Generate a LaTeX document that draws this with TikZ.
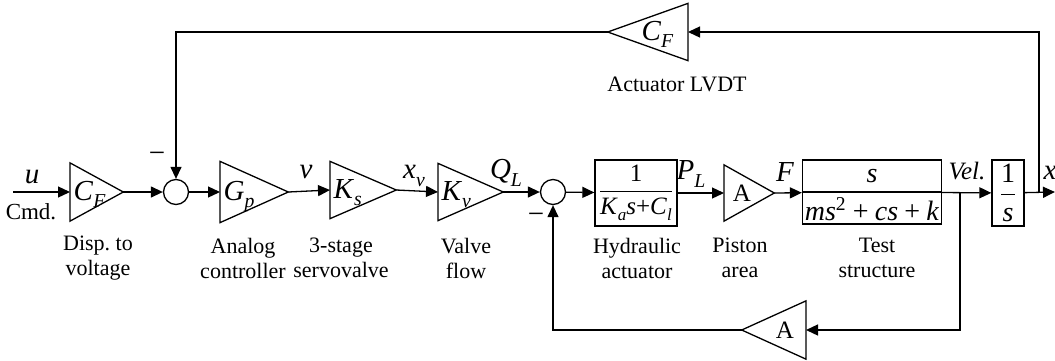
\documentclass[tikz,border=0pt]{standalone}
\usepackage{fontspec}
\setmainfont{Liberation Serif}
\usetikzlibrary{arrows.meta, positioning}

\newcommand{\mi}[1]{\textit{#1}}
\newcommand{\sub}[1]{\raisebox{-0.6ex}{\scalebox{0.68}{\textit{#1}}}}
\newcommand{\msp}{\hspace{0.22em}}
% triangle drawn in the box of a gain node
\newcommand{\gainright}[1]{\draw (#1.north west) -- (#1.east) -- (#1.south west) -- cycle;}
\newcommand{\gainleft}[1]{\draw (#1.north east) -- (#1.west) -- (#1.south east) -- cycle;}

\begin{document}
\begin{tikzpicture}[
        x=0.5pt, y=-0.5pt,
        line width=0.65pt,
        >={Triangle[length=6pt,width=5.5pt]},
        gain/.style={rectangle, inner sep=0pt},
        gtext/.style={inner sep=0pt, font=\fontsize{14.5}{16}\selectfont},
        sumpt/.style={draw, circle, minimum size=12.5pt, inner sep=0pt},
        block/.style={draw, rectangle, inner sep=0pt, font=\fontsize{12.5}{14}\selectfont},
        sig/.style={inner sep=0pt, font=\fontsize{14.5}{16}\selectfont},
        caption/.style={inner sep=0pt, align=center, font=\fontsize{11}{12.5}\selectfont}
    ]
    \useasboundingbox (0,0) rectangle (1055,360);

    % Forward path
    \node[gain, anchor=west, minimum width=26pt, minimum height=28.5pt] (cf) at (70,192) {};
    \node[sumpt] (s1) at (176,192) {};
    \node[gain, anchor=west, minimum width=33.5pt, minimum height=30pt] (gp) at (220,192) {};
    \node[gain, anchor=west, minimum width=32.5pt, minimum height=28pt] (ks) at (330,190) {};
    \node[gain, anchor=west, minimum width=32pt, minimum height=28pt] (kv) at (438,192) {};
    \node[sumpt] (s2) at (553,192) {};
    \node[block, minimum width=41pt, minimum height=33pt] (hyd) at (636,193)
        {$\displaystyle\frac{\mbox{1}}{\mbox{\mi{K}\sub{a}\mi{s}+\mi{C}\sub{l}}}$};
    \node[gain, anchor=west, minimum width=24.5pt, minimum height=27.5pt] (pa) at (724,193) {};
    \node[block, minimum width=69.5pt, minimum height=32pt] (ts) at (872,192) {};
    \node[block, minimum width=16pt, minimum height=33pt, font=\fontsize{14}{16}\selectfont] (integ) at (1008,193)
        {$\displaystyle\frac{\mbox{1}}{\mbox{\mi{s}}}$};

    % Feedback gains
    \node[gain, anchor=east, minimum width=39.5pt, minimum height=28pt] (fb) at (688,32) {};
    \node[gain, anchor=east, minimum width=31.5pt, minimum height=28.5pt] (fba) at (806,330) {};

    % Triangles
    \gainright{cf}
    \gainright{gp}
    \gainright{ks}
    \gainright{kv}
    \gainright{pa}
    \gainleft{fb}
    \gainleft{fba}

    % Gain texts
    \node[gtext, anchor=base west] (tcf) at ([xshift=1.5pt, yshift=-4pt]cf.west) {\mi{C}\sub{F}};
    \node[gtext, anchor=base west] (tgp) at ([xshift=1.5pt, yshift=-4pt]gp.west) {\mi{G}\sub{p}};
    \node[gtext, anchor=base west] (tks) at ([xshift=1.5pt, yshift=-4pt]ks.west) {\mi{K}\sub{s}};
    \node[gtext, anchor=base west] (tkv) at ([xshift=1.5pt, yshift=-4pt]kv.west) {\mi{K}\sub{v}};
    \node[gtext, anchor=base, font=\fontsize{12.5}{14}\selectfont] (tpa) at ([xshift=9pt, yshift=-4pt]pa.west) {A};
    \node[gtext, anchor=base east] (tfb) at ([xshift=-7pt, yshift=-4pt]fb.east) {\mi{C}\sub{F}};
    \node[gtext, anchor=base, font=\fontsize{12.5}{14}\selectfont] (tfba) at ([xshift=-10.5pt, yshift=-4pt]fba.east) {A};

    % Test structure fraction
    \draw (ts.west) -- (ts.east);
    \node[sig, font=\fontsize{14}{16}\selectfont] (tsnum) at (872,176) {\mi{s}};
    \node[sig, font=\fontsize{14}{16}\selectfont] (tsden) at (872,209) {\mi{ms}\textsuperscript{2}\msp+\msp\mi{cs}\msp+\msp\mi{k}};

    % Free ends and corners
    \coordinate (in) at (13,192);
    \coordinate (out) at (1055,192);
    \coordinate (bx) at (1039,192);
    \coordinate (bv) at (960,192);

    % Signals
    \draw[->] (in) -- (cf.west);
    \draw[->] (cf.east) -- (s1);
    \draw[->] (s1) -- (gp.west);
    \draw[->] (gp.east) -- (ks.west);
    \draw[->] (ks.east) -- (kv.west);
    \draw[->] (kv.east) -- (s2);
    \draw[->] (s2) -- (hyd);
    \draw[->] (hyd) -- (pa.west);
    \draw[->] (pa.east) -- (ts);
    \draw[->] (ts) -- (integ);
    \draw[->] (integ) -- (out);

    % Loops
    \draw[->] (bx) |- (fb.east);
    \draw[->] (fb.west) -| (s1);
    \draw[->] (bv) |- (fba.east);
    \draw[->] (fba.west) -| (s2);

    % Signal labels
    \node[sig] (lu) at (32,177) {\mi{u}};
    \node[caption, font=\fontsize{11.5}{13}\selectfont] (lcmd) at (31,212) {Cmd.};
    \node[sig] (lv) at (306,172) {\mi{v}};
    \node[sig] (lxv) at (414,176) {\mi{x}\sub{v}};
    \node[sig] (lql) at (506,173) {\mi{Q}\sub{L}};
    \node[sig] (lpl) at (691,174) {\mi{P}\sub{L}};
    \node[sig] (lf) at (785,172) {\mi{F}};
    \node[sig, font=\fontsize{12.5}{14}\selectfont] (lvel) at (967,171) {\mi{Vel.}};
    \node[sig] (lx) at (1050,173) {\mi{x}};
    \node[sig] (m1) at (157,157) {−};
    \node[sig] (m2) at (536,218) {−};

    % Block captions
    \node[caption] (ccf) at (98,258) {Disp.\ to\\voltage};
    \node[caption] (cgp) at (243,258) {Analog\\controller};
    \node[caption] (cks) at (341,258) {3-stage\\servovalve};
    \node[caption] (ckv) at (466,258) {Valve\\flow};
    \node[caption] (chyd) at (637,258) {Hydraulic\\actuator};
    \node[caption] (cpa) at (740,258) {Piston\\area};
    \node[caption] (cts) at (877,258) {Test\\structure};
    \node[caption] (cfb) at (677,84) {Actuator LVDT};
\end{tikzpicture}
\end{document}
